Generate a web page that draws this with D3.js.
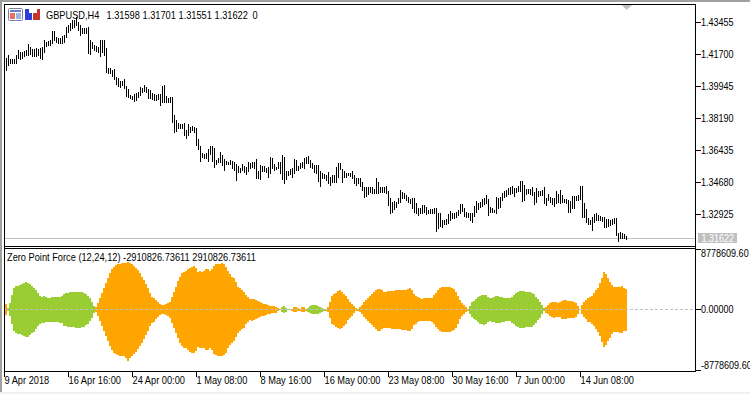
<!DOCTYPE html>
<html>
<head>
<meta charset="utf-8">
<script src="https://cdn.jsdelivr.net/npm/d3@7"></script>
<style>
html, body { margin: 0; padding: 0; background: #fff; overflow: hidden; }
svg { display: block; }
text { font-family: "Liberation Sans", sans-serif; font-size: 11px; fill: #000; }
</style>
</head>
<body>
<div id="chart"></div>
<script>
// H4 bars
var barHigh = [
1.4151,1.4167,1.4145,1.4145,1.4145,1.4167,1.4195,1.4184,1.4184,1.4189,1.4195,1.4228,1.4211,1.4200,1.4200,1.4206,1.4200,1.4206,1.4211,1.4250,
1.4239,1.4244,1.4250,1.4299,1.4299,1.4266,1.4261,1.4261,1.4272,1.4277,1.4321,1.4332,1.4343,1.4359,1.4359,1.4376,1.4348,1.4332,1.4315,1.4315,
1.4315,1.4321,1.4250,1.4239,1.4222,1.4217,1.4211,1.4250,1.4250,1.4250,1.4206,1.4096,1.4096,1.4085,1.4090,1.4047,1.4041,1.4025,1.4025,1.4036,
1.3997,1.3981,1.3948,1.3942,1.3953,1.3959,1.3964,1.3992,1.3986,1.4003,1.3992,1.3981,1.3975,1.3959,1.3953,1.3948,1.3953,1.3953,1.3997,1.4003,
1.3942,1.3931,1.3937,1.3937,1.3838,1.3811,1.3794,1.3789,1.3789,1.3794,1.3756,1.3789,1.3773,1.3778,1.3773,1.3767,1.3707,1.3668,1.3630,1.3624,
1.3630,1.3652,1.3668,1.3668,1.3657,1.3591,1.3602,1.3635,1.3619,1.3597,1.3586,1.3580,1.3591,1.3586,1.3580,1.3569,1.3558,1.3548,1.3569,1.3558,
1.3553,1.3580,1.3575,1.3580,1.3580,1.3597,1.3531,1.3564,1.3558,1.3558,1.3548,1.3553,1.3608,1.3602,1.3569,1.3553,1.3580,1.3580,1.3619,1.3608,
1.3531,1.3531,1.3542,1.3548,1.3597,1.3591,1.3558,1.3575,1.3580,1.3602,1.3608,1.3613,1.3591,1.3575,1.3564,1.3564,1.3564,1.3531,1.3520,1.3515,
1.3509,1.3526,1.3498,1.3509,1.3509,1.3553,1.3575,1.3575,1.3542,1.3531,1.3520,1.3520,1.3520,1.3531,1.3509,1.3493,1.3493,1.3493,1.3471,1.3443,
1.3443,1.3443,1.3443,1.3443,1.3432,1.3493,1.3471,1.3443,1.3443,1.3443,1.3449,1.3421,1.3383,1.3361,1.3367,1.3361,1.3383,1.3427,1.3416,1.3410,
1.3399,1.3389,1.3378,1.3383,1.3383,1.3356,1.3328,1.3328,1.3345,1.3345,1.3334,1.3317,1.3323,1.3323,1.3328,1.3328,1.3301,1.3301,1.3262,1.3262,
1.3268,1.3295,1.3312,1.3301,1.3301,1.3306,1.3317,1.3350,1.3350,1.3328,1.3306,1.3301,1.3301,1.3301,1.3339,1.3367,1.3356,1.3361,1.3378,1.3383,
1.3399,1.3378,1.3334,1.3328,1.3317,1.3389,1.3383,1.3389,1.3410,1.3421,1.3427,1.3438,1.3443,1.3449,1.3438,1.3438,1.3449,1.3476,1.3476,1.3454,
1.3432,1.3432,1.3432,1.3443,1.3416,1.3438,1.3421,1.3421,1.3427,1.3443,1.3383,1.3405,1.3389,1.3383,1.3383,1.3421,1.3405,1.3427,1.3399,1.3378,
1.3378,1.3372,1.3367,1.3394,1.3394,1.3394,1.3399,1.3449,1.3449,1.3356,1.3323,1.3273,1.3262,1.3279,1.3295,1.3301,1.3290,1.3284,1.3279,1.3279,
1.3268,1.3268,1.3262,1.3268,1.3273,1.3273,1.3191,1.3197,1.3191,1.3186,1.3175
]
var barLow = [
1.4085,1.4112,1.4123,1.4123,1.4123,1.4123,1.4151,1.4145,1.4151,1.4162,1.4167,1.4167,1.4173,1.4162,1.4162,1.4162,1.4167,1.4151,1.4145,1.4184,
1.4217,1.4222,1.4222,1.4233,1.4250,1.4239,1.4233,1.4233,1.4233,1.4239,1.4266,1.4294,1.4305,1.4315,1.4321,1.4332,1.4305,1.4277,1.4288,1.4288,
1.4288,1.4178,1.4173,1.4206,1.4195,1.4189,1.4184,1.4162,1.4184,1.4167,1.4074,1.4069,1.4069,1.4052,1.4036,1.4008,1.3997,1.3992,1.4003,1.3986,
1.3942,1.3937,1.3931,1.3926,1.3915,1.3920,1.3937,1.3948,1.3964,1.3970,1.3964,1.3931,1.3931,1.3926,1.3920,1.3920,1.3926,1.3893,1.3909,1.3909,
1.3909,1.3909,1.3909,1.3800,1.3745,1.3751,1.3767,1.3767,1.3767,1.3729,1.3712,1.3729,1.3745,1.3756,1.3745,1.3674,1.3652,1.3586,1.3608,1.3602,
1.3602,1.3586,1.3624,1.3586,1.3553,1.3569,1.3580,1.3580,1.3564,1.3537,1.3569,1.3569,1.3569,1.3548,1.3537,1.3482,1.3526,1.3526,1.3537,1.3526,
1.3515,1.3531,1.3548,1.3553,1.3548,1.3493,1.3493,1.3487,1.3531,1.3531,1.3526,1.3498,1.3520,1.3548,1.3537,1.3542,1.3548,1.3520,1.3487,1.3465,
1.3487,1.3509,1.3515,1.3498,1.3520,1.3537,1.3537,1.3548,1.3553,1.3548,1.3575,1.3575,1.3553,1.3548,1.3526,1.3520,1.3476,1.3449,1.3493,1.3493,
1.3482,1.3465,1.3454,1.3471,1.3471,1.3471,1.3498,1.3542,1.3471,1.3498,1.3498,1.3509,1.3504,1.3493,1.3465,1.3454,1.3465,1.3449,1.3427,1.3389,
1.3394,1.3405,1.3416,1.3410,1.3410,1.3410,1.3410,1.3416,1.3416,1.3416,1.3410,1.3345,1.3301,1.3306,1.3323,1.3334,1.3356,1.3361,1.3383,1.3383,
1.3372,1.3361,1.3356,1.3328,1.3306,1.3301,1.3290,1.3301,1.3301,1.3306,1.3295,1.3301,1.3301,1.3301,1.3301,1.3203,1.3219,1.3230,1.3224,1.3241,
1.3241,1.3246,1.3262,1.3273,1.3273,1.3279,1.3290,1.3301,1.3312,1.3284,1.3279,1.3279,1.3262,1.3251,1.3284,1.3306,1.3323,1.3334,1.3339,1.3350,
1.3356,1.3290,1.3306,1.3306,1.3306,1.3301,1.3328,1.3334,1.3372,1.3389,1.3394,1.3405,1.3405,1.3410,1.3394,1.3416,1.3421,1.3421,1.3367,1.3372,
1.3405,1.3410,1.3405,1.3399,1.3350,1.3361,1.3394,1.3399,1.3399,1.3356,1.3345,1.3372,1.3361,1.3350,1.3339,1.3356,1.3361,1.3356,1.3361,1.3361,
1.3356,1.3306,1.3306,1.3328,1.3328,1.3372,1.3372,1.3378,1.3279,1.3279,1.3251,1.3241,1.3241,1.3208,1.3251,1.3262,1.3262,1.3262,1.3257,1.3224,
1.3224,1.3230,1.3235,1.3241,1.3246,1.3180,1.3147,1.3164,1.3164,1.3164,1.3158
]
// Zero Point Force envelope, in millions
var forceValues = [
0.78,0.19,0.92,2.14,3.11,3.40,3.50,3.59,3.69,3.89,4.03,3.93,3.69,3.45,3.21,2.87,2.38,2.04,1.89,1.94,
1.80,1.75,1.75,1.80,1.80,1.80,1.85,1.89,1.99,2.33,2.43,2.48,2.53,2.53,2.57,2.62,2.62,2.62,2.57,2.48,
2.28,2.04,1.65,1.17,0.53,0.34,0.92,1.65,2.38,3.11,3.84,4.57,5.29,5.93,6.27,6.51,6.61,6.70,6.75,6.80,
6.85,6.90,6.85,6.70,6.41,6.12,5.78,5.29,4.81,4.32,3.69,3.11,2.38,1.89,1.75,1.41,1.07,0.78,0.68,0.68,
0.78,0.92,1.17,1.89,2.62,3.35,4.18,4.81,5.29,5.54,5.63,5.93,6.12,6.27,6.36,6.02,5.44,5.63,5.54,5.63,
5.93,5.93,5.63,5.93,6.41,6.61,6.70,6.70,6.80,6.61,6.27,5.63,5.15,4.81,4.57,3.98,3.35,3.11,2.87,2.62,
2.14,1.80,1.51,1.60,1.55,1.41,1.26,1.07,0.92,0.87,0.78,0.68,0.58,0.49,0.49,0.44,0.19,0.05,0.39,0.53,
0.29,0.10,0.10,0.15,0.34,0.34,0.24,0.15,0.34,0.39,0.15,0.29,0.49,0.63,0.68,0.68,0.58,0.44,0.29,0.15,
0.15,0.39,1.17,2.04,2.28,2.48,2.72,2.82,2.62,2.33,2.04,1.55,1.17,0.87,0.53,0.19,0.15,0.34,0.68,1.12,
1.36,1.65,1.94,2.28,2.53,2.82,3.06,3.06,2.82,2.62,2.62,2.72,2.72,2.77,2.77,2.82,2.82,2.82,2.91,2.91,
2.91,3.06,3.11,2.87,2.23,2.04,1.85,1.70,1.60,1.65,1.65,1.70,1.70,1.75,2.14,2.48,2.87,3.11,3.25,3.30,
3.30,3.30,3.25,3.11,3.01,2.62,2.04,1.41,0.92,0.68,0.34,0.15,0.58,1.07,1.31,1.55,1.80,2.04,2.09,2.19,
2.09,1.85,1.70,1.75,1.85,1.94,1.99,1.89,1.85,1.75,1.65,1.65,1.65,1.89,2.14,2.38,2.57,2.67,2.67,2.67,
2.57,2.57,2.53,2.48,2.28,1.89,1.51,1.17,0.68,0.19,0.44,0.68,0.92,1.12,1.17,1.12,1.02,1.12,1.31,1.36,
1.36,1.26,1.26,1.21,1.17,1.02,0.58,0.10,0.68,1.07,1.41,1.75,1.85,2.04,2.38,2.87,3.21,3.84,4.66,5.44,
5.15,4.57,4.08,3.59,3.25,3.25,3.25,3.35,3.40,3.11,3.05
]
// bar index ranges drawn green, the rest is orange
var greenRuns = [[1, 44], [138, 142], [151, 159], [232, 269]]
// the few bars that reach deeper below zero than above
var deepBars = [60, 61, 62]
var deepValues = [7.0, 7.43, 7.0]

var priceTicks = [1.43455, 1.417, 1.39945, 1.3819, 1.36435, 1.3468, 1.32925]
var forceTicks = [8.7786096, 0, -8.7786096]
var forceLabels = ["8778609.60", "0.00000", "-8778609.60"]
var timeBars = [0, 32, 64, 96, 128, 160, 192, 224, 256, 288]
var timeLabels = ["9 Apr 2018", "16 Apr 16:00", "24 Apr 00:00", "1 May 08:00", "8 May 16:00", "16 May 00:00", "23 May 08:00", "30 May 16:00", "7 Jun 00:00", "14 Jun 08:00"]
var headerLabels = ["GBPUSD,H4", "1.31598", "1.31701", "1.31551", "1.31622", "0"]
var headerX = [46, 106.5, 142.5, 178.5, 214.5, 252.5]
var lastPrice = 1.31622
var indicatorTitle = "Zero Point Force (12,24,12) -2910826.73611 2910826.73611"

var WIDTH = 750,
	HEIGHT = 394,
	left = 4,
	right = 695,
	mainTop = 4,
	mainBottom = 246,
	subTop = 248,
	subBottom = 371

var svg = d3.select("#chart").append("svg")
	.attr("width", WIDTH)
	.attr("height", HEIGHT)

var x = d3.scaleLinear().domain([0, 310]).range([6, 626])
var priceY = d3.scaleLinear().domain([1.43455, 1.32925]).range([22.5, 214.5])
var forceY = d3.scaleLinear().domain([8.7786096, -8.7786096]).range([249.5, 370])

// window edge
svg.append("rect").attr("width", 750).attr("height", 2).attr("fill", "#a0a0a0")
svg.append("rect").attr("width", 2).attr("height", 392).attr("fill", "#a0a0a0")
svg.append("rect").attr("y", 392).attr("width", 750).attr("height", 2).attr("fill", "#f0f0f0")

// price line and marker
svg.append("rect")
	.attr("x", left + 1).attr("y", Math.floor(priceY(lastPrice)))
	.attr("width", right - left - 1).attr("height", 1)
	.attr("fill", "#c0c0c0")
svg.append("path")
	.attr("d", "M621.5,5H632L626.7,10Z")
	.attr("fill", "#c0c0c0")

var bars = barHigh.map(function(h, i){ return {i: i, high: h, low: barLow[i]} })
svg.append("g").selectAll("rect")
	.data(bars)
	.enter().append("rect")
	.attr("x", function(d){ return x(d.i) })
	.attr("y", function(d){ return Math.round(priceY(d.high)) })
	.attr("width", 1)
	.attr("height", function(d){ return Math.round(priceY(d.low)) - Math.round(priceY(d.high)) + 1 })
	.attr("fill", "#000")

function forceColor(i){
	var green = greenRuns.some(function(r){ return i >= r[0] && i <= r[1] })
	return green ? "#9acd32" : "#ffa500"
}
function forceLow(d, i){
	var k = deepBars.indexOf(i)
	return k >= 0 ? deepValues[k] : d
}

svg.append("g").selectAll("rect")
	.data(forceValues)
	.enter().append("rect")
	.attr("x", function(d, i){ return x(i) - 1 })
	.attr("y", function(d){ return Math.round(forceY(d)) })
	.attr("width", 2)
	.attr("height", function(d, i){ return Math.round(forceY(-forceLow(d, i))) - Math.round(forceY(d)) })
	.attr("fill", function(d, i){ return forceColor(i) })

svg.append("line")
	.attr("x1", left + 1).attr("x2", right)
	.attr("y1", 309.5).attr("y2", 309.5)
	.attr("stroke", "#c0c0c0")
	.attr("stroke-dasharray", "3,2")

// frames
var frameLines = [
	[left, mainTop, right + 1, mainTop],
	[left, mainBottom, right + 1, mainBottom],
	[left, subTop, right + 1, subTop],
	[left, subBottom, right + 1, subBottom]
]
frameLines.forEach(function(l){
	svg.append("rect").attr("x", l[0]).attr("y", l[1]).attr("width", l[2] - l[0]).attr("height", 1).attr("fill", "#000")
})
svg.append("rect").attr("x", left).attr("y", mainTop).attr("width", 1).attr("height", subBottom - mainTop + 1)
svg.append("rect").attr("x", right).attr("y", mainTop).attr("width", 1).attr("height", subBottom - mainTop + 1)

// right axes
var priceAxis = d3.axisRight(priceY)
	.tickValues(priceTicks)
	.tickSize(5)
	.tickPadding(0)
	.offset(0)
	.tickFormat(d3.format(".5f"))
var priceG = svg.append("g").attr("class", "narrow").attr("transform", "translate(" + (right + 1) + ",0)").call(priceAxis)
priceG.select(".domain").remove()

var forceAxis = d3.axisRight(forceY)
	.tickValues(forceTicks)
	.tickSize(5)
	.tickPadding(0)
	.offset(0)
	.tickFormat(function(d, i){ return forceLabels[i] })
var forceG = svg.append("g").attr("class", "narrow").attr("transform", "translate(" + (right + 1) + ",0)").call(forceAxis)
forceG.select(".domain").remove()
forceG.selectAll("text").attr("y", function(d){
	if(d > 0) return 4
	if(d < 0) return -4.5
	return 0
})
svg.selectAll(".tick line").attr("stroke", "#000").attr("shape-rendering", "crispEdges")
svg.selectAll("g").attr("font-family", null).attr("font-size", null)

// last price tag
svg.append("rect")
	.attr("x", 698).attr("y", Math.floor(priceY(lastPrice)) - 5)
	.attr("width", 39).attr("height", 10)
	.attr("fill", "#c0c0c0")
svg.append("text")
	.attr("class", "tag")
	.attr("x", 701.5).attr("y", Math.floor(priceY(lastPrice)) + 4)
	.style("fill", "#fff")
	.text(d3.format(".5f")(lastPrice))

// time axis
var timeScale = d3.scalePoint().domain(timeBars).range([x(timeBars[0]) - 1.5, x(timeBars[timeBars.length - 1]) - 1.5])
var timeAxis = d3.axisBottom(timeScale)
	.tickSize(5)
	.tickPadding(2)
	.offset(0)
	.tickFormat(function(d, i){ return timeLabels[i] })
var timeG = svg.append("g").attr("transform", "translate(0," + (subBottom + 1) + ")").call(timeAxis)
timeG.select(".domain").remove()
timeG.selectAll(".tick line").attr("stroke", "#000").attr("shape-rendering", "crispEdges")
timeG.selectAll("text").attr("text-anchor", "start").attr("dy", null).attr("y", 12).attr("x", 0)

// headers
svg.append("g").selectAll("text")
	.data(headerLabels)
	.enter().append("text")
	.attr("x", function(d, i){ return headerX[i] })
	.attr("y", 19)
	.text(function(d){ return d })
svg.append("text").attr("x", 7).attr("y", 261).text(indicatorTitle)

// the reference face is narrower than anything installed, squeeze the glyphs
svg.selectAll("text").each(function(){
	var t = d3.select(this)
	var digits = this.parentNode.parentNode.getAttribute("class") == "narrow" || t.classed("tag")
	t.attr("textLength", this.getComputedTextLength() * (digits ? 0.82 : 0.84))
		.attr("lengthAdjust", "spacingAndGlyphs")
})

// toolbar icons
var icon = svg.append("g")
icon.append("rect").attr("x", 8.5).attr("y", 8.5).attr("width", 14).attr("height", 12).attr("rx", 1).attr("fill", "#fff").attr("stroke", "#7f7f9f")
icon.append("rect").attr("x", 10).attr("y", 10).attr("width", 11).attr("height", 2).attr("fill", "#6a7fd0")
icon.append("rect").attr("x", 10).attr("y", 13).attr("width", 5).attr("height", 6).attr("fill", "#e8705a")
icon.append("rect").attr("x", 16).attr("y", 13).attr("width", 5).attr("height", 6).attr("fill", "#9fb4e8")
icon.append("path").attr("d", "M25,9H29V13H32V20H25Z").attr("fill", "#2b3fd6")
icon.append("path").attr("d", "M37,9H40V20H33V13H37Z").attr("fill", "#c8342c")
</script>
</body>
</html>
